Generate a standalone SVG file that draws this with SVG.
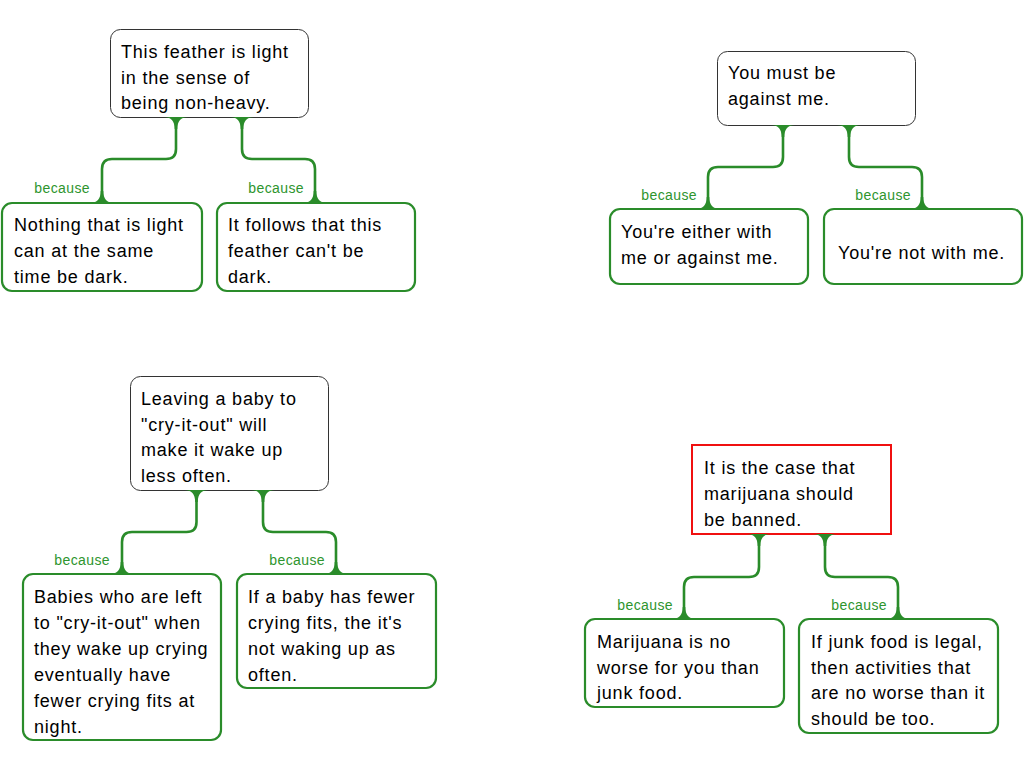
<svg xmlns="http://www.w3.org/2000/svg" xmlns:xlink="http://www.w3.org/1999/xlink" width="1024" height="768" viewBox="0 0 1024 768">
<defs>
<style>
.root{fill:#fff;stroke:#333;stroke-width:1}
.claim{fill:#fff;stroke:#f01010;stroke-width:2}
.reason{fill:#fff;stroke:#2a8c2a;stroke-width:2.2}
.t{font-family:"Liberation Sans",Arial,sans-serif;font-size:18px;letter-spacing:0.8px;fill:#000}
.b{font-family:"Liberation Sans",Arial,sans-serif;font-size:14px;letter-spacing:0.4px;fill:#2e952e;text-anchor:end}
.c{fill:none;stroke:#2a8c2a;stroke-width:2.6}
.f{fill:#2a8c2a}
</style>
<path id="flare" d="M-12,0 C-5,0 -1.3,4 -1.3,12 L1.3,12 C1.3,4 5,0 12,0 Z"/>
</defs>
<rect width="1024" height="768" fill="#fff"/>

<!-- Diagram 1 -->
<g id="n1">
<rect class="root" x="110.5" y="29.5" width="198" height="88" rx="10"/>
<text class="t"><tspan x="121" y="57.5">This feather is light</tspan><tspan x="121" y="83.5">in the sense of</tspan><tspan x="121" y="108.5">being non-heavy.</tspan></text>
</g>
<g id="n1a">
<rect class="reason" x="2" y="203" width="200" height="88" rx="10"/>
<text class="t"><tspan x="14" y="230.5">Nothing that is light</tspan><tspan x="14" y="256.5">can at the same</tspan><tspan x="14" y="282.5">time be dark.</tspan></text>
</g>
<g id="n1b">
<rect class="reason" x="217" y="203" width="198" height="88" rx="10"/>
<text class="t"><tspan x="228" y="230.5">It follows that this</tspan><tspan x="228" y="256.5">feather can't be</tspan><tspan x="228" y="282.5">dark.</tspan></text>
</g>

<!-- Diagram 2 -->
<g id="n2">
<rect class="root" x="717.5" y="51.5" width="198" height="74" rx="10"/>
<text class="t"><tspan x="728" y="78.5">You must be</tspan><tspan x="728" y="104.5">against me.</tspan></text>
</g>
<g id="n2a">
<rect class="reason" x="610" y="209" width="198" height="75" rx="10"/>
<text class="t"><tspan x="621" y="237.5">You're either with</tspan><tspan x="621" y="263.5">me or against me.</tspan></text>
</g>
<g id="n2b">
<rect class="reason" x="824" y="209" width="198" height="75" rx="10"/>
<text class="t"><tspan x="838" y="258.5">You're not with me.</tspan></text>
</g>

<!-- Diagram 3 -->
<g id="n3">
<rect class="root" x="130.5" y="376.5" width="198" height="114" rx="10"/>
<text class="t"><tspan x="141" y="404.5">Leaving a baby to</tspan><tspan x="141" y="430.5">"cry-it-out" will</tspan><tspan x="141" y="455.5">make it wake up</tspan><tspan x="141" y="481.5">less often.</tspan></text>
</g>
<g id="n3a">
<rect class="reason" x="23" y="574" width="198" height="166" rx="10"/>
<text class="t"><tspan x="34" y="602.5">Babies who are left</tspan><tspan x="34" y="628.5">to "cry-it-out" when</tspan><tspan x="34" y="654.5">they wake up crying</tspan><tspan x="34" y="680.5">eventually have</tspan><tspan x="34" y="706.5">fewer crying fits at</tspan><tspan x="34" y="732.5">night.</tspan></text>
</g>
<g id="n3b">
<rect class="reason" x="237" y="574" width="199" height="114" rx="10"/>
<text class="t"><tspan x="248" y="602.5">If a baby has fewer</tspan><tspan x="248" y="628.5">crying fits, the it's</tspan><tspan x="248" y="654.5">not waking up as</tspan><tspan x="248" y="680.5">often.</tspan></text>
</g>

<!-- Diagram 4 -->
<g id="n4">
<rect class="claim" x="692" y="445" width="199" height="89"/>
<text class="t"><tspan x="704" y="473.5">It is the case that</tspan><tspan x="704" y="499.5">marijuana should</tspan><tspan x="704" y="525.5">be banned.</tspan></text>
</g>
<g id="n4a">
<rect class="reason" x="585" y="619" width="199" height="88" rx="10"/>
<text class="t"><tspan x="597" y="647.5">Marijuana is no</tspan><tspan x="597" y="673.5">worse for you than</tspan><tspan x="597" y="698.5">junk food.</tspan></text>
</g>
<g id="n4b">
<rect class="reason" x="799" y="619" width="199" height="114" rx="10"/>
<text class="t"><tspan x="811" y="647.5">If junk food is legal,</tspan><tspan x="811" y="673.5">then activities that</tspan><tspan x="811" y="698.5">are no worse than it</tspan><tspan x="811" y="724.5">should be too.</tspan></text>
</g>

<g id="connectors">
<!-- D1 -->
<path class="c" d="M176,117 V149 Q176,159 166,159 H112 Q102,159 102,169 V203"/>
<path class="c" d="M242,117 V149 Q242,159 252,159 H305 Q315,159 315,169 V203"/>
<use href="#flare" class="f" transform="translate(176,117)"/>
<use href="#flare" class="f" transform="translate(242,117)"/>
<use href="#flare" class="f" transform="translate(102,203) scale(1,-1)"/>
<use href="#flare" class="f" transform="translate(315,203) scale(1,-1)"/>
<text class="b" x="90" y="193">because</text>
<text class="b" x="304" y="193">because</text>
<!-- D2 -->
<path class="c" d="M783,125 V157 Q783,167 773,167 H718 Q708,167 708,177 V209"/>
<path class="c" d="M849,125 V157 Q849,167 859,167 H912 Q922,167 922,177 V209"/>
<use href="#flare" class="f" transform="translate(783,125)"/>
<use href="#flare" class="f" transform="translate(849,125)"/>
<use href="#flare" class="f" transform="translate(708,209) scale(1,-1)"/>
<use href="#flare" class="f" transform="translate(922,209) scale(1,-1)"/>
<text class="b" x="697" y="200">because</text>
<text class="b" x="911" y="200">because</text>
<!-- D3 -->
<path class="c" d="M196.5,490 V522 Q196.5,532 186.5,532 H132 Q122,532 122,542 V574"/>
<path class="c" d="M263,490 V522 Q263,532 273,532 H326 Q336,532 336,542 V574"/>
<use href="#flare" class="f" transform="translate(196.5,490)"/>
<use href="#flare" class="f" transform="translate(263,490)"/>
<use href="#flare" class="f" transform="translate(122,574) scale(1,-1)"/>
<use href="#flare" class="f" transform="translate(336,574) scale(1,-1)"/>
<text class="b" x="110" y="565">because</text>
<text class="b" x="325" y="565">because</text>
<!-- D4 -->
<path class="c" d="M759,534 V567 Q759,577 749,577 H694 Q684,577 684,587 V619"/>
<path class="c" d="M825,534 V567 Q825,577 835,577 H888 Q898,577 898,587 V619"/>
<use href="#flare" class="f" transform="translate(759,534)"/>
<use href="#flare" class="f" transform="translate(825,534)"/>
<use href="#flare" class="f" transform="translate(684,619) scale(1,-1)"/>
<use href="#flare" class="f" transform="translate(898,619) scale(1,-1)"/>
<text class="b" x="673" y="610">because</text>
<text class="b" x="887" y="610">because</text>
</g>
</svg>
